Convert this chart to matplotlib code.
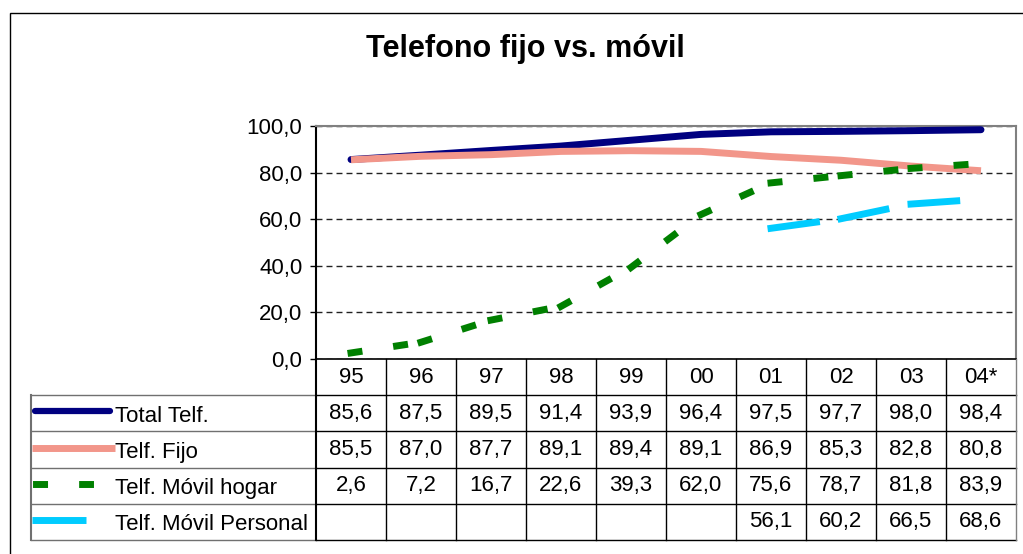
import numpy as np
import matplotlib
matplotlib.use('Agg')
import matplotlib.pyplot as plt
from matplotlib.patches import Rectangle

plt.rcParams['font.family'] = ['Liberation Sans', 'DejaVu Sans']
plt.rcParams['lines.scale_dashes'] = False

# data
years = ['95', '96', '97', '98', '99', '00', '01', '02', '03', '04*']
total = [85.6, 87.5, 89.5, 91.4, 93.9, 96.4, 97.5, 97.7, 98.0, 98.4]
fijo = [85.5, 87.0, 87.7, 89.1, 89.4, 89.1, 86.9, 85.3, 82.8, 80.8]
hogar = [2.6, 7.2, 16.7, 22.6, 39.3, 62.0, 75.6, 78.7, 81.8, 83.9]
personal = [np.nan] * 6 + [56.1, 60.2, 66.5, 68.6]
names = ['Total Telf.', 'Telf. Fijo', 'Telf. Móvil hogar', 'Telf. Móvil Personal']

navy, salmon, green, cyan = '#000080', '#F2968A', '#008000', '#00CCFF'

W, H = 1023, 554
fig = plt.figure(figsize=(W / 100, H / 100), dpi=100)


def px(x0, y0, x1, y1):
    return [x0 / W, 1 - y1 / H, (x1 - x0) / W, (y1 - y0) / H]


# outer frame (cut off at right and bottom)
fig.add_artist(Rectangle((10 / W, -0.1), 1.2, 1.1 - 13 / H, transform=fig.transFigure,
                         fill=False, lw=1, edgecolor='black'))
fig.text(525 / W, 1 - 57 / H, 'Telefono fijo vs. móvil', ha='center', va='baseline',
         fontsize=22, fontweight='bold')

# chart
ax = fig.add_axes(px(316, 126, 1016, 359))
x = np.arange(len(years))
ax.plot(x, total, color=navy, lw=5, solid_capstyle='round', zorder=3)
ax.plot(x, fijo, color=salmon, lw=5, solid_capstyle='butt', zorder=4)
for i in range(len(x) - 1):
    ax.plot(x[i:i + 2], hogar[i:i + 2], color=green, lw=5, dashes=(5.8, 27.4),
            dash_capstyle='projecting', zorder=5)
    if not np.isnan(personal[i]):
        ax.plot(x[i:i + 2], personal[i:i + 2], color=cyan, lw=5, dashes=(33, 22),
                dash_capstyle='projecting', zorder=6)

ax.set_xlim(-0.5, len(years) - 0.5)
ax.set_ylim(0, 100)
yt = np.arange(0, 101, 20)
ax.set_yticks(yt)
ax.set_yticklabels([f'{v:.1f}'.replace('.', ',') for v in yt])
ax.set_xticks([])
ax.tick_params(axis='y', direction='out', length=4.3, width=1, pad=5.5, labelsize=16)
ax.set_axisbelow(True)
ax.yaxis.grid(True, linestyle=(0, (4.3, 2.9)), color='#222222', lw=1)
ax.spines['top'].set_color('#808080')
ax.spines['right'].set_color('#808080')
ax.spines['top'].set_linewidth(1.5)
ax.spines['right'].set_linewidth(1.5)
ax.spines['left'].set_linewidth(1.5)
ax.spines['bottom'].set_linewidth(1.2)

# data table
axt = fig.add_axes(px(31, 359, 1016, 540))
xl = -0.5 - 285 / 70
axt.set_xlim(xl, len(years) - 0.5)
axt.set_ylim(5, 0)
axt.axis('off')

for r in range(1, 6):
    axt.plot([xl, -0.5], [r, r], color='#707070', lw=1, clip_on=False)
    axt.plot([-0.5, len(years) - 0.5], [r, r], color='black', lw=1, clip_on=False)
axt.plot([xl, xl], [1, 5], color='#707070', lw=1.5, clip_on=False)
for c in range(len(years) + 1):
    axt.plot([c - 0.5, c - 0.5], [0, 5], color='black' if c < len(years) else '#808080',
             lw=1 if c else 1.5, clip_on=False)

fs = 16
for i, y in enumerate(years):
    axt.text(i, 0.5, y, ha='center', va='center', fontsize=fs)
for r, series in enumerate([total, fijo, hogar, personal], start=1):
    for i, v in enumerate(series):
        if not np.isnan(v):
            axt.text(i, r + 0.5, f'{v:.1f}'.replace('.', ','), ha='center', va='center', fontsize=fs)

# legend keys
ky = 0.45
axt.plot([xl + 0.06, xl + 1.13], [1 + ky] * 2, color=navy, lw=4.5, solid_capstyle='round', clip_on=False)
axt.plot([xl + 0.014, xl + 1.2], [2 + ky] * 2, color=salmon, lw=5, solid_capstyle='butt', clip_on=False)
axt.plot([xl + 0.071, xl + 0.843], [3 + ky] * 2, color=green, lw=5, dashes=(5.8, 27.4),
         dash_capstyle='projecting', clip_on=False)
axt.plot([xl + 0.014, xl + 0.786], [4 + ky] * 2, color=cyan, lw=5, solid_capstyle='butt', clip_on=False)
for r, n in enumerate(names, start=1):
    axt.text(xl + 1.2, r + 0.58, n, ha='left', va='center', fontsize=fs)

fig.savefig('out.png', dpi=100)
